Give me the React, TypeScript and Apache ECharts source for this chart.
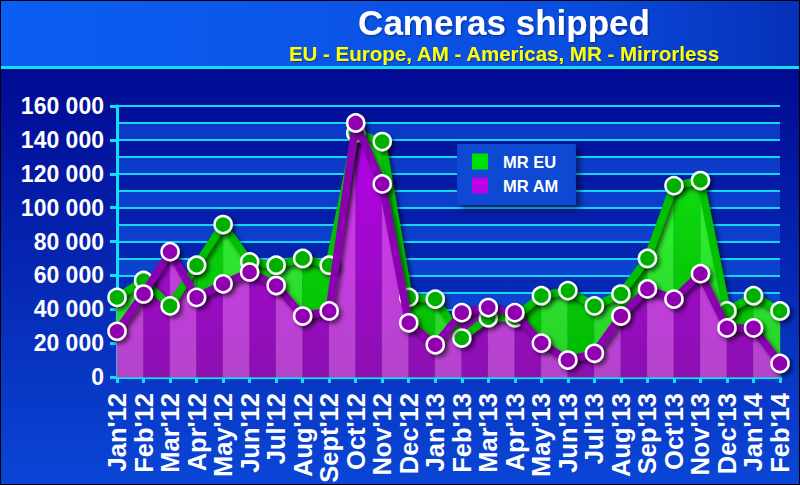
import React, { useEffect, useRef } from "react";
import * as echarts from "echarts";

const categories = [
  "Jan'12", "Feb'12", "Mar'12", "Apr'12", "May'12", "Jun'12", "Jul'12", "Aug'12", "Sept'12",
  "Oct'12", "Nov'12", "Dec'12", "Jan'13", "Feb'13", "Mar'13", "Apr'13", "May'13", "Jun'13",
  "Jul'13", "Aug'13", "Sep'13", "Oct'13", "Nov'13", "Dec'13", "Jan'14", "Feb'14",
];
const mrEU = [
  47000, 57000, 42000, 66000, 90000, 68000, 66000, 70000, 66000, 144000, 139000, 47000, 46000,
  23000, 35000, 35000, 48000, 51000, 42000, 49000, 70000, 113000, 116000, 39000, 48000, 39000,
];
const mrAM = [
  27000, 49000, 74000, 47000, 55000, 62000, 54000, 36000, 39000, 150000, 114000, 32000, 19000,
  38000, 41000, 38000, 20000, 10000, 14000, 36000, 52000, 46000, 61000, 29000, 29000, 8000,
];
const yTicks = [0, 20000, 40000, 60000, 80000, 100000, 120000, 140000, 160000];

const FONT = "'Liberation Sans', Arial, sans-serif";
const NARROW = "'Liberation Sans Narrow', 'Arial Narrow', 'Liberation Sans', sans-serif";

function segments(values: number[]) {
  const out: number[][] = [];
  for (let i = 0; i < values.length - 1; i++) out.push([i, values[i], values[i + 1]]);
  return out;
}

function stripeSeries(name: string, values: number[], light: string[], dark: string[]) {
  return {
    type: "custom",
    name: name + "_area",
    silent: true,
    data: segments(values),
    encode: { x: 0, y: [1, 2] },
    renderItem: (params: any, api: any) => {
      const i = api.value(0);
      const p0 = api.coord([i, api.value(1)]);
      const p1 = api.coord([i + 1, api.value(2)]);
      const b0 = api.coord([i, 0]);
      const b1 = api.coord([i + 1, 0]);
      const top = api.coord([0, 160000])[1];
      const c = i % 2 === 0 ? light : dark;
      return {
        type: "polygon",
        shape: { points: [p0, p1, b1, b0] },
        style: {
          fill: new echarts.graphic.LinearGradient(
            0, top, 0, b0[1],
            [
              { offset: 0, color: c[0] },
              { offset: 1, color: c[1] },
            ],
            true
          ),
          stroke: c[1],
          lineWidth: 0.5,
        },
      };
    },
  };
}

export default function App() {
  const ref = useRef<HTMLDivElement>(null);
  useEffect(() => {
    if (!ref.current) return;
    const chart = echarts.init(ref.current, null, { renderer: "svg" });
    const lineShadow = { shadowColor: "rgba(0,0,0,0.55)", shadowBlur: 4, shadowOffsetX: 3, shadowOffsetY: 3 };
    chart.setOption({
      animation: false,
      backgroundColor: new echarts.graphic.LinearGradient(0, 0, 0, 1, [
        { offset: 0, color: "#000086" },
        { offset: 1, color: "#0a46d6" },
      ]),
      graphic: [
        {
          type: "rect",
          shape: { x: 0, y: 0, width: 800, height: 66 },
          style: {
            fill: new echarts.graphic.LinearGradient(0, 0, 1, 0, [
              { offset: 0, color: "#0c5ef2" },
              { offset: 0.7, color: "#0a4ee0" },
              { offset: 1, color: "#0630b8" },
            ]),
          },
          z: -10,
        },
        {
          type: "rect",
          shape: { x: 0, y: 66, width: 800, height: 3 },
          style: { fill: "#10e0ff" },
          z: -10,
        },
        {
          type: "rect",
          shape: { x: 0.5, y: 0.5, width: 799, height: 484 },
          style: { fill: "none", stroke: "#000000", lineWidth: 1 },
          z: 100,
        },
      ],
      title: {
        text: "Cameras shipped",
        subtext: "EU - Europe, AM - Americas, MR - Mirrorless",
        left: 499,
        textAlign: "center",
        top: 0,
        itemGap: 3,
        textStyle: {
          color: "#ffffff",
          fontFamily: FONT,
          fontWeight: "bold",
          fontSize: 35,
          textShadowColor: "rgba(0,0,0,0.4)",
          textShadowBlur: 2,
          textShadowOffsetX: 1,
          textShadowOffsetY: 1,
        },
        subtextStyle: {
          color: "#ffff00",
          fontFamily: FONT,
          fontWeight: "bold",
          fontSize: 20.5,
          textShadowColor: "rgba(0,0,0,0.3)",
          textShadowBlur: 1,
          textShadowOffsetX: 1,
          textShadowOffsetY: 1,
        },
      },
      legend: {
        left: 457,
        top: 144,
        orient: "vertical",
        backgroundColor: "#0a48d2",
        padding: [9, 17, 11, 15],
        itemGap: 7,
        itemWidth: 16,
        itemHeight: 16,
        borderRadius: 0,
        shadowColor: "rgba(0,0,0,0.5)",
        shadowBlur: 6,
        shadowOffsetX: 4,
        shadowOffsetY: 4,
        textStyle: {
          color: "#ffffff",
          fontFamily: FONT,
          fontWeight: "bold",
          fontSize: 16.5,
          padding: [0, 0, 0, 10],
        },
        data: [
          { name: "MR EU", icon: "rect", itemStyle: { color: "#00e000", borderWidth: 0 } },
          { name: "MR AM", icon: "rect", itemStyle: { color: "#c000e8", borderWidth: 0 } },
        ],
      },
      grid: { left: 117, right: 20, top: 106, bottom: 108, outerBoundsMode: "none", containLabel: false },
      xAxis: {
        type: "category",
        data: categories,
        boundaryGap: false,
        axisLine: { lineStyle: { color: "#10e0ff", width: 3 } },
        axisTick: { show: true, length: 6, lineStyle: { color: "#10e0ff", width: 3 } },
        axisLabel: {
          rotate: 90,
          interval: 0,
          margin: 16,
          color: "#ffffff",
          fontFamily: NARROW,
          fontWeight: "bold",
          fontSize: 25.5,
        },
        splitLine: { show: false },
      },
      yAxis: [
        {
          type: "value",
          min: 0,
          max: 160000,
          interval: 20000,
          axisLine: { show: true, lineStyle: { color: "#10e0ff", width: 3 } },
          axisTick: { show: true, length: 7, lineStyle: { color: "#10e0ff", width: 3 } },
          axisLabel: {
            margin: 13,
            color: "#ffffff",
            fontFamily: FONT,
            fontWeight: "bold",
            fontSize: 23,
            formatter: (v: number) => (v === 0 ? "0" : `${v / 1000} 000`),
          },
          splitLine: { show: false },
        },
        {
          type: "value",
          min: 0,
          max: 160000,
          interval: 10000,
          position: "right",
          axisLine: { show: false },
          axisTick: { show: false },
          axisLabel: { show: false },
          splitLine: { show: true, lineStyle: { color: "#10d8ff", width: 2 } },
          splitArea: { show: true, areaStyle: { color: ["rgba(18,84,226,0.6)", "rgba(0,0,0,0)"] } },
        },
      ],
      series: [
        stripeSeries("MR EU", mrEU, ["#36ff36", "#28d028"], ["#14e814", "#00b800"]),
        stripeSeries("MR AM", mrAM, ["#dc30fc", "#b444cc"], ["#b800ee", "#8c10b0"]),
        {
          type: "line",
          name: "MR EU",
          data: mrEU,
          z: 5,
          symbol: "circle",
          symbolSize: 17,
          lineStyle: { color: "#00c000", width: 7.5, ...lineShadow },
          itemStyle: { color: "#00b000", borderColor: "#ffffff", borderWidth: 2.5, ...lineShadow },
        },
        {
          type: "line",
          name: "MR AM",
          data: mrAM,
          z: 6,
          symbol: "circle",
          symbolSize: 17,
          lineStyle: { color: "#8a00b0", width: 7.5, ...lineShadow },
          itemStyle: { color: "#9000b0", borderColor: "#ffffff", borderWidth: 2.5, ...lineShadow },
        },
      ],
    });
    return () => chart.dispose();
  }, []);
  return (
    <div
      ref={ref}
      style={{ position: "fixed", left: 0, top: 0, width: 800, height: 485 }}
    />
  );
}
